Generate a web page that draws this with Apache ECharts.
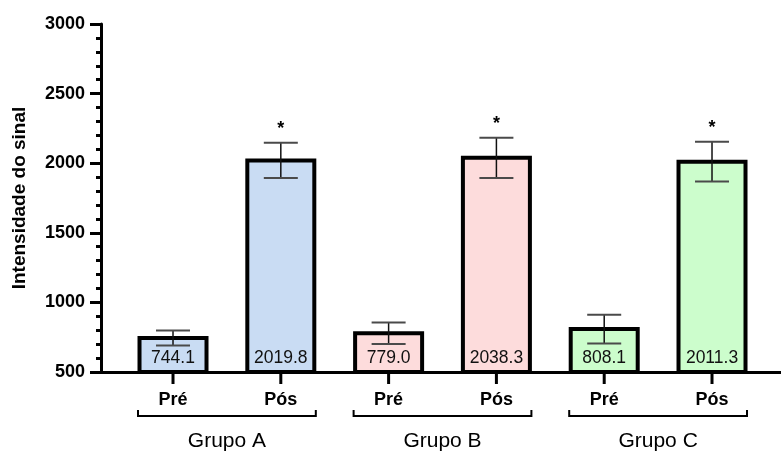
<!DOCTYPE html>
<html>
<head>
<meta charset="utf-8">
<script src="https://cdn.jsdelivr.net/npm/echarts@6/dist/echarts.min.js"></script>
<style>
  html, body { margin: 0; padding: 0; background: #fff; }
  #chart { width: 781px; height: 452px; }
</style>
</head>
<body>
<div id="chart"></div>
<script>
// Sample labels and group names
const categories = ['Pré', 'Pós', 'Pré', 'Pós', 'Pré', 'Pós'];
const groups = ['Grupo A', 'Grupo B', 'Grupo C'];
// Mean signal intensity per bar and its error (SD)
const means = [744.1, 2019.8, 779.0, 2038.3, 808.1, 2011.3];
const errors = [54, 127, 77, 145, 103, 143];
// Significance marks above each bar
const marks = ['', '*', '', '*', '', '*'];
// Y axis ticks
const yMin = 500, yMax = 3000, yStep = 500;

const groupFills = ['#c9dcf3', '#fddcdc', '#ccfdcc'];
const FONT = '"Liberation Sans", Arial, Helvetica, sans-serif';
const BAR_W = 67;

const barData = means.map((v, i) => [i, v, errors[i]]);

const chart = echarts.init(document.getElementById('chart'), null, { renderer: 'canvas' });

chart.setOption({
  animation: false,
  grid: { left: 101, right: 0, top: 24, bottom: 80, containLabel: false },
  xAxis: {
    type: 'value',
    min: -0.668,
    max: 5.64,
    axisLine: { show: true, onZero: false, lineStyle: { color: '#000', width: 3 } },
    axisTick: { show: false },
    axisLabel: { show: false },
    splitLine: { show: false }
  },
  yAxis: {
    type: 'value',
    min: yMin,
    max: yMax,
    interval: yStep,
    name: 'Intensidade do sinal',
    nameLocation: 'middle',
    nameGap: 72,
    nameTextStyle: { fontFamily: FONT, fontSize: 19, fontWeight: 'bold', color: '#000' },
    axisLine: { show: true, onZero: false, lineStyle: { color: '#000', width: 3 } },
    axisTick: { show: true, length: 11, lineStyle: { color: '#000', width: 3 } },
    minorTick: { show: true, splitNumber: 5, length: 5, lineStyle: { color: '#000', width: 3 } },
    axisLabel: {
      margin: 16, fontFamily: FONT, fontSize: 18, fontWeight: 'bold', color: '#000',
      formatter: function (v) { return String(v); }
    },
    splitLine: { show: false },
    minorSplitLine: { show: false }
  },
  series: [
    {
      // Bars with value labels inside, starting from the axis base
      type: 'custom',
      z: 2,
      data: barData,
      renderItem: function (params, api) {
        const i = api.value(0);
        const v = api.value(1);
        const base = api.coord([i, yMin]);
        const top = api.coord([i, v]);
        const fill = groupFills[Math.floor(i / 2)];
        return {
          type: 'group',
          children: [
            {
              type: 'rect',
              shape: { x: base[0] - BAR_W / 2, y: top[1], width: BAR_W, height: base[1] - top[1] },
              style: { fill: fill, stroke: '#000', lineWidth: 4 }
            },
            {
              type: 'text',
              x: base[0],
              y: base[1] - 14,
              style: {
                text: v.toFixed(1),
                fontFamily: FONT, fontSize: 17.5, fill: '#111',
                textAlign: 'center', textVerticalAlign: 'middle'
              }
            }
          ]
        };
      }
    },
    {
      // Error bars and significance marks
      type: 'custom',
      z: 3,
      data: barData,
      renderItem: function (params, api) {
        const i = api.value(0);
        const v = api.value(1);
        const e = api.value(2);
        const hi = api.coord([i, v + e]);
        const lo = api.coord([i, v - e]);
        const x = hi[0];
        const capW = 17;
        const children = [
          { type: 'line', shape: { x1: x, y1: hi[1], x2: x, y2: lo[1] }, style: { stroke: '#111', lineWidth: 1.5 } },
          { type: 'line', shape: { x1: x - capW, y1: hi[1], x2: x + capW, y2: hi[1] }, style: { stroke: '#4a4a4a', lineWidth: 2 } },
          { type: 'line', shape: { x1: x - capW, y1: lo[1], x2: x + capW, y2: lo[1] }, style: { stroke: '#4a4a4a', lineWidth: 2 } }
        ];
        if (marks[params.dataIndex]) {
          children.push({
            type: 'text', x: x, y: hi[1] - 14,
            style: {
              text: marks[params.dataIndex], fontFamily: FONT, fontSize: 18, fontWeight: 'bold',
              fill: '#000', textAlign: 'center', textVerticalAlign: 'middle'
            }
          });
        }
        return { type: 'group', children: children };
      }
    },
    {
      // Category ticks and labels below the x axis
      type: 'custom',
      z: 4,
      data: categories.map((c, i) => [i, yMin]),
      renderItem: function (params, api) {
        const p = api.coord([api.value(0), yMin]);
        return {
          type: 'group',
          children: [
            { type: 'line', shape: { x1: p[0], y1: p[1], x2: p[0], y2: p[1] + 12 }, style: { stroke: '#000', lineWidth: 3 } },
            {
              type: 'text', x: p[0], y: p[1] + 28.5,
              style: {
                text: categories[params.dataIndex], fontFamily: FONT, fontSize: 18, fontWeight: 'bold',
                fill: '#000', textAlign: 'center', textVerticalAlign: 'middle'
              }
            }
          ]
        };
      }
    },
    {
      // Group brackets and group names
      type: 'custom',
      z: 4,
      data: groups.map((g, k) => [k * 2, k * 2 + 1]),
      renderItem: function (params, api) {
        const a = api.coord([api.value(0), yMin]);
        const b = api.coord([api.value(1), yMin]);
        const y = a[1] + 44;
        const x1 = a[0] - 35, x2 = b[0] + 35;
        return {
          type: 'group',
          children: [
            {
              type: 'polyline',
              shape: { points: [[x1, y - 6], [x1, y], [x2, y], [x2, y - 6]] },
              style: { stroke: '#000', lineWidth: 2, fill: null }
            },
            {
              type: 'text', x: (a[0] + b[0]) / 2, y: y + 25,
              style: {
                text: groups[params.dataIndex], fontFamily: FONT, fontSize: 21,
                fill: '#000', textAlign: 'center', textVerticalAlign: 'middle'
              }
            }
          ]
        };
      }
    }
  ]
});
</script>
</body>
</html>
